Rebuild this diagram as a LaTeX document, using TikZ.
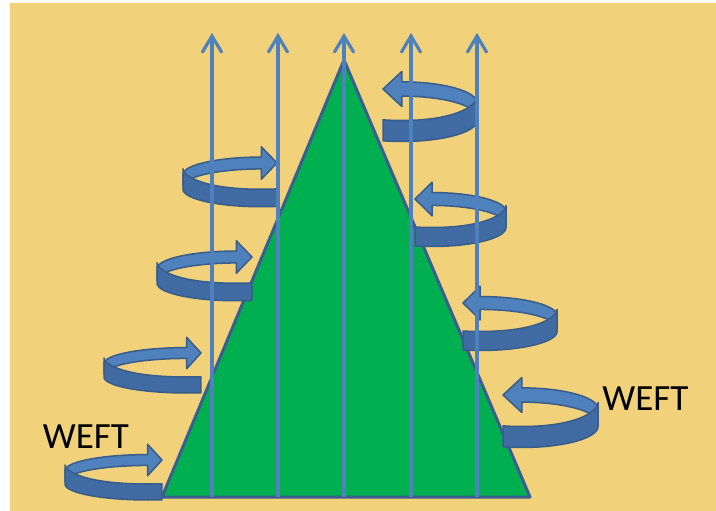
\documentclass[tikz,border=0pt]{standalone}
\usepackage{fontspec}
\setmainfont{Carlito}
\definecolor{bgyellow}{HTML}{F1D27B}
\definecolor{trigreen}{HTML}{00B050}
\definecolor{edgeblue}{HTML}{3B5E91}
\definecolor{lineblue}{HTML}{4F81BD}
\definecolor{bandlight}{HTML}{4F81BD}
\definecolor{banddark}{HTML}{406BA3}
\definecolor{bandedge}{HTML}{385D8A}
\tikzset{
 backband/.style={fill=bandlight, draw=bandedge, line width=1.5pt, line join=round},
 frontband/.style={fill=banddark, draw=bandedge, line width=1.5pt, line join=round},
 warp/.style={draw=lineblue, line width=3.2pt},
 warpbarb/.style={draw=lineblue, line width=3.2pt, line join=miter, line cap=round},
 tri/.style={fill=trigreen, draw=edgeblue, line width=3pt, line join=round},
 weft/.style={font=\fontsize{37}{40}\selectfont, text=black, inner sep=0pt}
}
\newcommand\weftarr[5]{%
 \pgfmathsetmacro\wD{#4}%
 \pgfmathsetmacro\wB{\wD/2}%
 \pgfmathsetmacro\wL{0.45*\wD}%
 \pgfmathsetmacro\wH{10+0.18*\wD}%
 \pgfmathsetmacro\wHa{0.17*\wD}%
 \pgfmathsetmacro\wHb{0.25*\wD}%
 \pgfmathsetmacro\wA{#5-\wL}%
 \pgfmathsetmacro\wTe{acos(\wL/\wA)}%
 \begin{scope}[shift={(#1,#2)}, xscale=#3]
  \filldraw[backband] (0,0) -- (-\wL,-\wH) -- (-\wL,-\wHa)
   -- plot[domain=270:180, samples=40, variable=\t] ({-\wL+\wA*cos(\t)},{\wB+\wB*sin(\t)-\wHa})
   -- plot[domain=180:270, samples=40, variable=\t] ({-\wL+\wA*cos(\t)},{\wB+\wB*sin(\t)+\wHa})
   -- (-\wL,\wH) -- cycle;
  \filldraw[frontband] plot[domain=180:\wTe, samples=40, variable=\t] ({-\wL+\wA*cos(\t)},{\wB+\wB*sin(\t)-\wHb-3*max(0,-cos(\t))^4})
   -- plot[domain=\wTe:180, samples=40, variable=\t] ({-\wL+\wA*cos(\t)},{\wB+\wB*sin(\t)+\wHb}) -- cycle;
 \end{scope}}
\begin{document}
\begin{tikzpicture}[x=1pt, y=-1pt]
\useasboundingbox (0,0) rectangle (716,511);
\fill[bgyellow] (10,3) rectangle (716,511);
% triangle
\coordinate (apex) at (344,60);
\coordinate (bl) at (162,497);
\coordinate (br) at (530,497);
\draw[tri] (apex) -- (bl) -- (br) -- cycle;
% weft arrows
\weftarr{162}{460}{1}{32}{97}
\weftarr{201}{353}{1}{32}{97}
\weftarr{252}{257}{1}{35}{95}
\weftarr{277}{163}{1}{35}{94}
\weftarr{383}{89}{-1}{42}{94}
\weftarr{415}{199}{-1}{38}{91}
\weftarr{463}{303}{-1}{38}{94}
\weftarr{503}{395}{-1}{42}{95}
% warp lines
\foreach \i/\xx in {1/212,2/278,3/344,4/411,5/477}{
  \coordinate (b\i) at (\xx,497);
  \coordinate (t\i) at (\xx,36);
  \draw[warp] (b\i) -- (t\i);
  \draw[warpbarb] (t\i) ++(-9.5,16) -- (t\i) -- ++(9.5,16);
}
\node[weft] (wl) at (86,437) {WEFT};
\node[weft] (wr) at (645.5,398.5) {WEFT};
\end{tikzpicture}
\end{document}
